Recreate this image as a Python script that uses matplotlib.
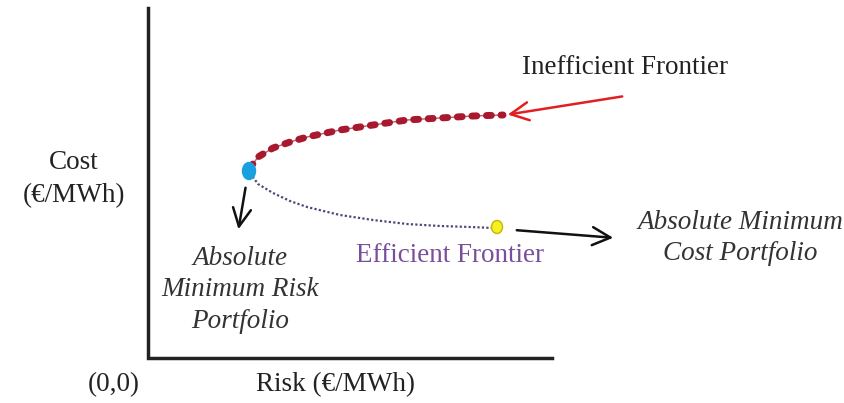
import matplotlib.pyplot as plt
from matplotlib.patches import Ellipse

plt.rcParams['font.family'] = ['Liberation Serif', 'DejaVu Serif']

# curve points (x = risk, y = cost, pixel-like units, origin top-left)
ineff_x = [250, 258, 273, 290, 307, 340, 373, 407, 440, 473, 503]
ineff_y = [168, 157, 148, 142, 137, 130, 125, 120, 118, 116, 115]
eff_x = [250, 258, 273, 290, 307, 340, 373, 407, 440, 470, 493]
eff_y = [173, 184, 193, 201, 207, 215, 220, 224, 226, 227, 228]
min_risk = (249, 171)
min_cost = (497, 227)

fig = plt.figure(figsize=(8.44, 4.03), dpi=100)
ax = fig.add_axes([0, 0, 1, 1])
ax.set_xlim(0, 844)
ax.set_ylim(403, 0)
ax.axis('off')

# axes lines
ax.plot([148, 148, 552], [8, 358, 358], color='#222222', lw=2.5, solid_joinstyle='miter')

# frontiers
ax.plot(eff_x, eff_y, color='#4a4a7a', lw=1.6, ls=(0, (1, 1)))
ax.plot(ineff_x, ineff_y, color='#b0606e', lw=1, zorder=3)
ax.plot(ineff_x, ineff_y, color='#a8182e', lw=5, ls=(0, (0.7, 1.4)),
        dash_capstyle='round', zorder=4)

ax.add_patch(Ellipse(min_risk, 13, 17, color='#1a9fe0', zorder=5))
ax.add_patch(Ellipse(min_cost, 11, 13, facecolor='#f5f020', edgecolor='#c8b400', lw=1, zorder=5))

# arrows
head = '->,head_length=1.3,head_width=0.65'
ax.annotate('', xy=(505, 115), xytext=(625, 96),
            arrowprops=dict(arrowstyle=head, color='#e02020', lw=1.8))
ax.annotate('', xy=(238, 232), xytext=(246, 185),
            arrowprops=dict(arrowstyle=head, color='#111111', lw=1.8))
ax.annotate('', xy=(616, 238), xytext=(514, 230),
            arrowprops=dict(arrowstyle=head, color='#111111', lw=1.8))

# labels
fs = 19.5
ax.text(625, 68, 'Inefficient Frontier', fontsize=fs, ha='center', va='center', color='#222222')
ax.text(74, 179, 'Cost\n(€/MWh)', fontsize=fs, ha='center', va='center', color='#222222',
        linespacing=1.4)
ax.text(240, 290, 'Absolute\nMinimum Risk\nPortfolio', fontsize=fs, ha='center', va='center',
        style='italic', color='#333333', linespacing=1.35)
ax.text(450, 255, 'Efficient Frontier', fontsize=fs, ha='center', va='center', color='#7a4f9a')
ax.text(740, 238, 'Absolute Minimum\nCost Portfolio', fontsize=fs, ha='center', va='center',
        style='italic', color='#333333', linespacing=1.3)
ax.text(114, 385, '(0,0)', fontsize=fs, ha='center', va='center', color='#222222')
ax.text(335, 385, 'Risk (€/MWh)', fontsize=fs, ha='center', va='center', color='#222222')

fig.savefig('out.png', dpi=100)
